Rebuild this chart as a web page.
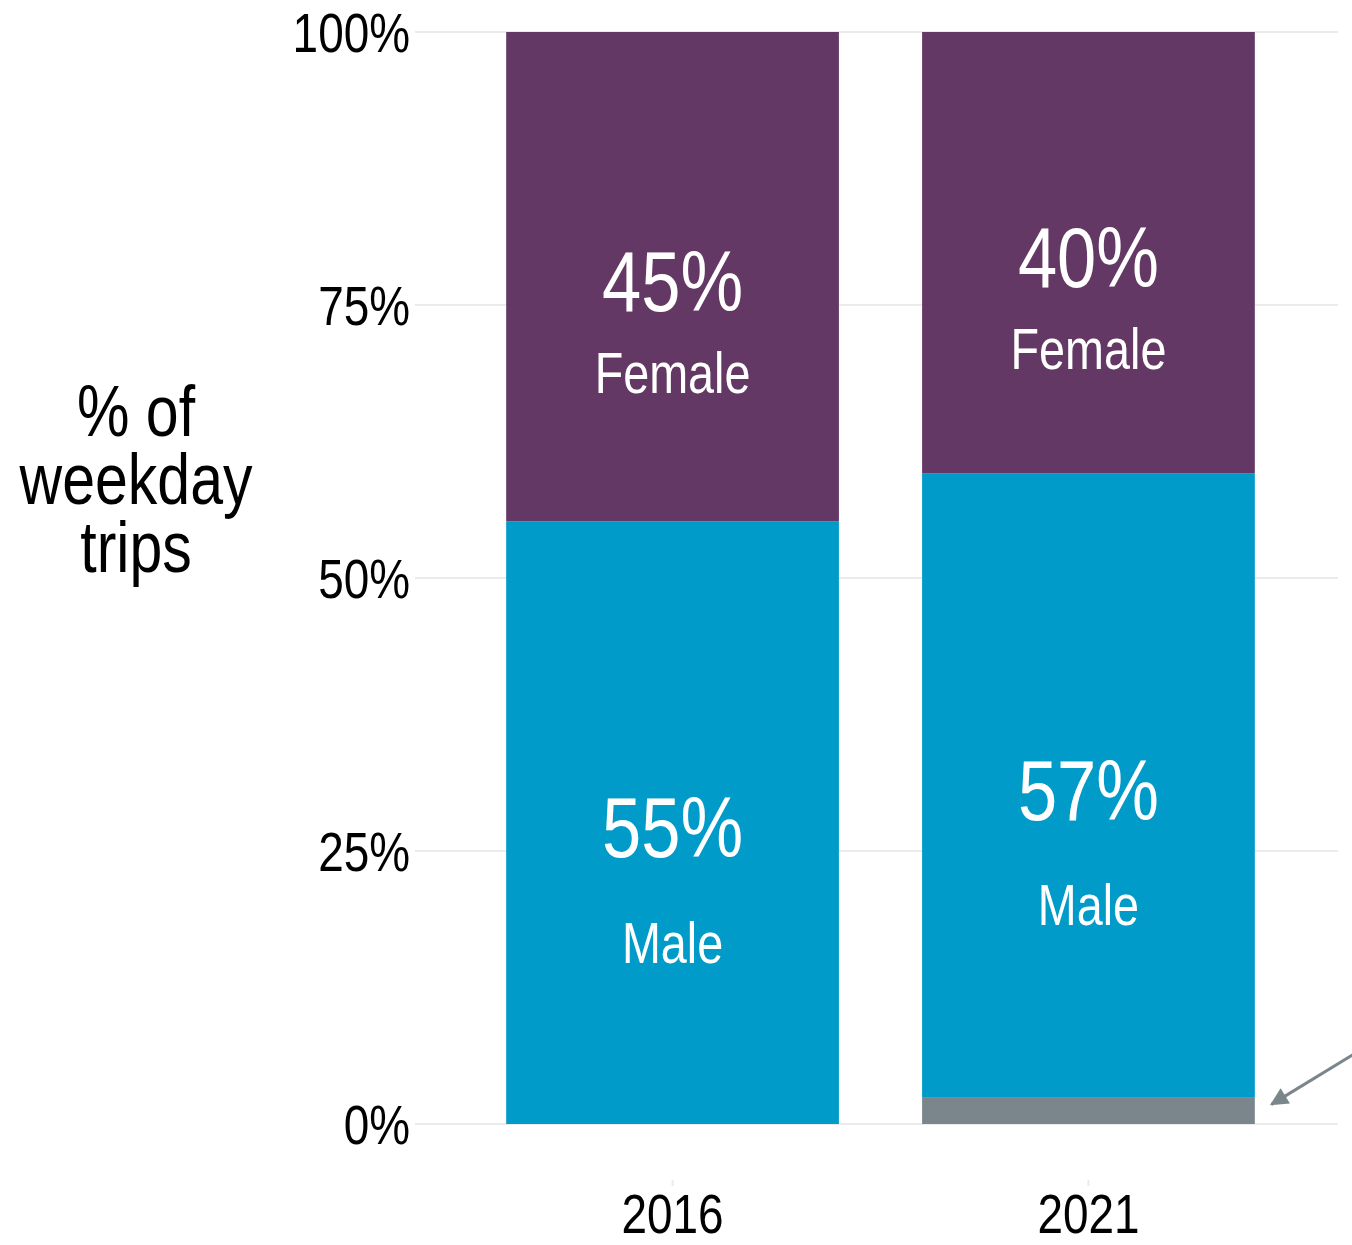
<!DOCTYPE html>
<html>
<head>
<meta charset="utf-8">
<script src="https://cdn.jsdelivr.net/npm/d3@7"></script>
<style>
  body { margin: 0; background: #fff; }
  text { font-family: "Liberation Sans Narrow", "Liberation Sans", Arial, sans-serif; }
</style>
</head>
<body>
<div id="chart"></div>
<script>
const width = 1352;
const height = 1245;
const narrow = 0.82; // squeeze factor, no condensed font is installed

const years = ["2016", "2021"];
const categories = ["Other", "Male", "Female"];
const other = [0, 2.4];
const male = [55.2, 57.2];
const female = [44.8, 40.4];
const pctLabels = { Male: ["55%", "57%"], Female: ["45%", "40%"] };
const yTicks = [0, 25, 50, 75, 100];
const yTitle = ["% of", "weekday", "trips"];

const colors = { Other: "#7b868c", Male: "#009bc8", Female: "#643865" };

// rows for the stack
const rows = years.map((y, i) => ({ year: y, Other: other[i], Male: male[i], Female: female[i] }));
const series = d3.stack().keys(categories)(rows);

const margin = { top: 32, left: 423, right: 14, bottom: 121 };

const x = d3
  .scaleBand()
  .domain(years)
  .range([margin.left, width - margin.right])
  .paddingInner(0.2)
  .paddingOuter(0.2);

// continuous version of x for the annotation (1 = first band centre)
const xc = d3
  .scaleLinear()
  .domain([1, 2])
  .range([x("2016") + x.bandwidth() / 2, x("2021") + x.bandwidth() / 2]);

const y = d3
  .scaleLinear()
  .domain([0, 100])
  .range([height - margin.bottom, margin.top]);

const svg = d3
  .select("#chart")
  .append("svg")
  .attr("width", width)
  .attr("height", height);

// text squeezed horizontally around its anchor
const addText = (parent, tx, ty, str, size, anchor, fill) =>
  parent
    .append("text")
    .attr("transform", `translate(${tx},${ty}) scale(${narrow},1)`)
    .attr("text-anchor", anchor)
    .attr("font-size", size)
    .attr("fill", fill)
    .text(str);

// grid lines
svg
  .append("g")
  .selectAll("line")
  .data(yTicks)
  .enter()
  .append("line")
  .attr("x1", 415)
  .attr("x2", width - margin.right)
  .attr("y1", (d) => y(d))
  .attr("y2", (d) => y(d))
  .attr("stroke", "#ebebeb")
  .attr("stroke-width", 2);

// y axis labels
const yAxis = svg.append("g");
yTicks.forEach((t) => {
  addText(yAxis, 410, y(t), t + "%", 56, "end", "#000").attr("dy", "0.35em");
});

// y title
const titleG = svg.append("g");
yTitle.forEach((t, i) => {
  addText(titleG, 136, 436 + i * 68, t, 72, "middle", "#000");
});

// bars
svg
  .append("g")
  .selectAll("g")
  .data(series)
  .enter()
  .append("g")
  .attr("fill", (d) => colors[d.key])
  .selectAll("rect")
  .data((d) => d)
  .enter()
  .append("rect")
  .attr("x", (d) => x(d.data.year))
  .attr("width", x.bandwidth())
  .attr("y", (d) => y(d[1]))
  .attr("height", (d) => y(d[0]) - y(d[1]));

// labels inside bars
const labelOffset = { Male: 120, Female: 96 };
const labels = svg.append("g");
series
  .filter((s) => s.key !== "Other")
  .forEach((s) => {
    s.forEach((d, i) => {
      const cx = x(d.data.year) + x.bandwidth() / 2;
      const mid = (y(d[0]) + y(d[1])) / 2;
      addText(labels, cx, mid + 4, pctLabels[s.key][i], 86, "middle", "#fff").attr("dy", "0.35em");
      addText(labels, cx, mid + labelOffset[s.key], s.key, 57, "middle", "#fff").attr("dy", "0.35em");
    });
  });

// x axis ticks and labels
const xAxis = svg.append("g");
years.forEach((yr) => {
  const cx = x(yr) + x.bandwidth() / 2;
  xAxis
    .append("line")
    .attr("x1", cx)
    .attr("x2", cx)
    .attr("y1", 1180)
    .attr("y2", 1186)
    .attr("stroke", "#ebebeb")
    .attr("stroke-width", 2);
  addText(xAxis, cx, 1233, yr, 56, "middle", "#000");
});

// annotation arrow pointing at "Other"
svg
  .append("defs")
  .append("marker")
  .attr("id", "head")
  .attr("viewBox", "0 0 10 10")
  .attr("refX", 9)
  .attr("refY", 5)
  .attr("markerWidth", 7)
  .attr("markerHeight", 6)
  .attr("markerUnits", "strokeWidth")
  .attr("orient", "auto")
  .append("path")
  .attr("d", "M0,0 L10,5 L0,10 z")
  .attr("fill", "#7b868c");

svg
  .append("line")
  .attr("x1", xc(2.66))
  .attr("y1", y(6.9))
  .attr("x2", xc(2.44))
  .attr("y2", y(1.8))
  .attr("stroke", "#7b868c")
  .attr("stroke-width", 3)
  .attr("marker-end", "url(#head)");
</script>
</body>
</html>
